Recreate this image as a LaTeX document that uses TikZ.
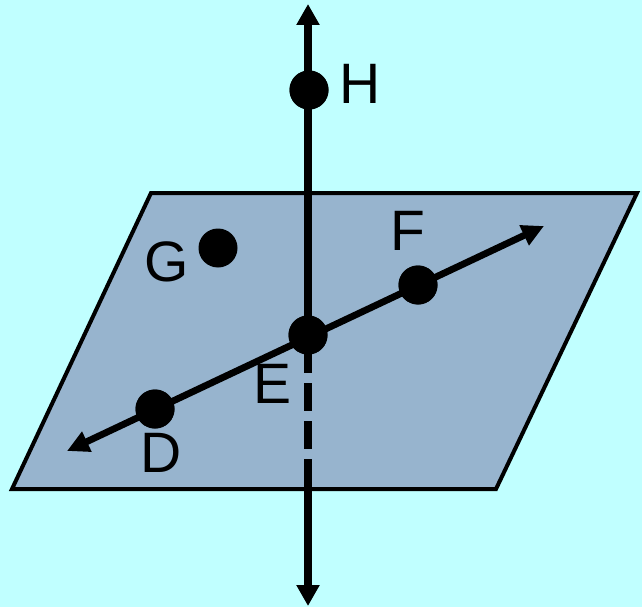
\documentclass[tikz,border=0pt]{standalone}
\usepackage{fontspec}
\setmainfont{Liberation Sans}
\usetikzlibrary{arrows.meta}
\definecolor{bgcyan}{RGB}{192,255,255}
\definecolor{planeblue}{RGB}{151,180,206}
\tikzset{
  dot/.style={circle,fill=black,inner sep=0pt,minimum size=39pt},
  lab/.style={anchor=base,inner sep=0pt,font=\fontsize{57}{60}\selectfont},
  axis/.style={line width=8.5pt,-{Triangle[width=22pt,length=21pt]}},
  ray/.style={line width=6.8pt,{Triangle[width=21pt,length=22pt]}-{Triangle[width=21pt,length=22pt]}},
}
\begin{document}
\begin{tikzpicture}[x=1pt,y=-1pt]
\fill[bgcyan] (0,0) rectangle (642,607);
\useasboundingbox (0,0) rectangle (642,607);
% plane
\draw[fill=planeblue,line width=4pt,line join=miter] (151,193) -- (637,193) -- (496,489) -- (12,489) -- cycle;
% coordinates
\coordinate (top) at (308,4);
\coordinate (bot) at (308,606);
\coordinate (edge) at (308,489);
\coordinate (aL) at (67,451);
\coordinate (aR) at (544,226);
% points
\node[dot] (E) at (308,335) {};
\node[dot] (H) at (309,90) {};
\node[dot] (G) at (218,248) {};
\node[dot] (F) at (418,285) {};
\node[dot] (D) at (155,409) {};
% vertical line
\draw[axis] (E.center) -- (top);
\draw[axis] (edge) -- (bot);
\draw[line width=8.5pt,dash pattern=on 38pt off 10pt on 28pt off 10pt on 28pt off 10pt on 28pt off 10pt] (E.center) -- (edge);
% line DF
\draw[ray] (aL) -- (aR);
% redraw dots on top
\node[dot] at (E) {};
\node[dot] at (H) {};
\node[dot] at (F) {};
\node[dot] at (D) {};
% labels
\node[lab] (lH) at (360,104) {H};
\node[lab] (lG) at (167,281) {G};
\node[lab] (lF) at (408,250) {F};
\node[lab] (lE) at (273,403) {E};
\node[lab] (lD) at (161,472) {D};
\end{tikzpicture}
\end{document}
